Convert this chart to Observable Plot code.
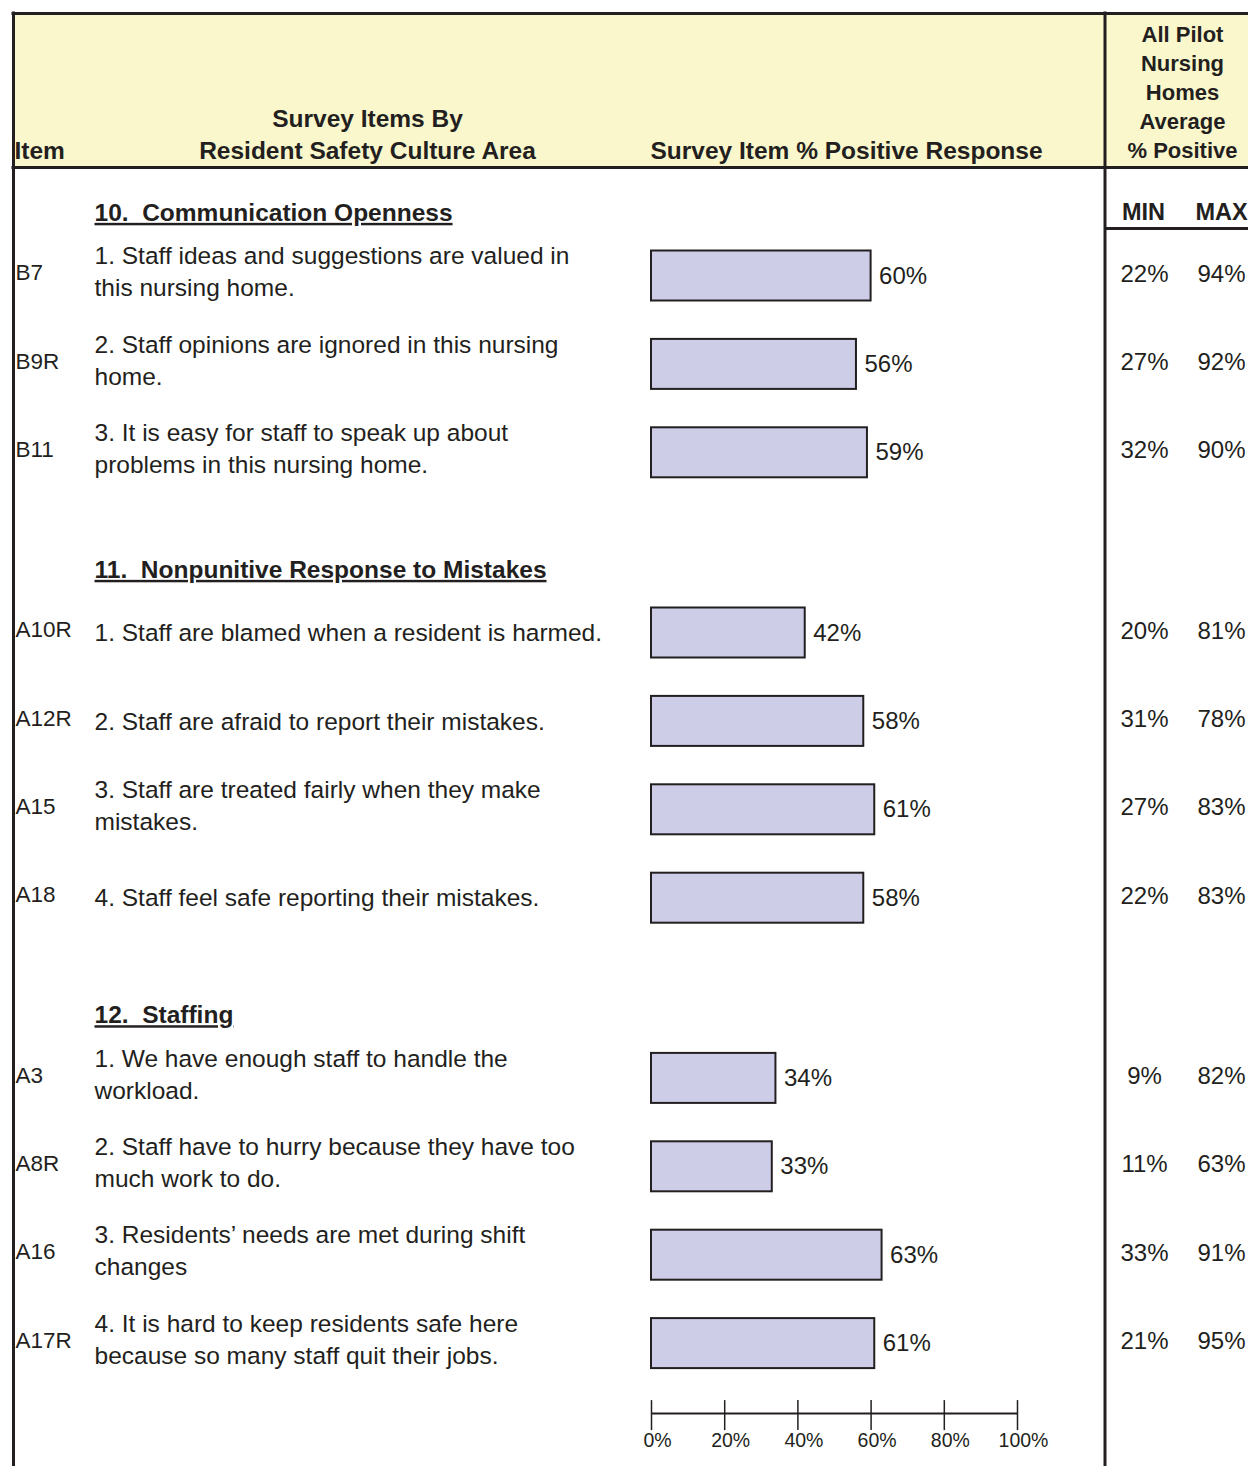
<!DOCTYPE html>
<html>
<head>
<meta charset="utf-8">
<script src="https://cdn.jsdelivr.net/npm/d3@7"></script>
<script src="https://cdn.jsdelivr.net/npm/@observablehq/plot@0.6"></script>
<style>
  html, body { margin: 0; padding: 0; background: #ffffff; }
  #chart svg { display: block; }
</style>
</head>
<body>
<div id="chart"></div>
<script>
// ---------------- DATA ----------------
const sectionTitles = [
  "10.\u00a0 Communication Openness",
  "11.\u00a0 Nonpunitive Response to Mistakes",
  "12.\u00a0 Staffing"
];
const itemCodes = ["B7", "B9R", "B11", "A10R", "A12R", "A15", "A18", "A3", "A8R", "A16", "A17R"];
const itemSection = [0, 0, 0, 1, 1, 1, 1, 2, 2, 2, 2];
const itemTexts = [
  "1. Staff ideas and suggestions are valued in\nthis nursing home.",
  "2. Staff opinions are ignored in this nursing\nhome.",
  "3. It is easy for staff to speak up about\nproblems in this nursing home.",
  "1. Staff are blamed when a resident is harmed.",
  "2. Staff are afraid to report their mistakes.",
  "3. Staff are treated fairly when they make\nmistakes.",
  "4. Staff feel safe reporting their mistakes.",
  "1. We have enough staff to handle the\nworkload.",
  "2. Staff have to hurry because they have too\nmuch work to do.",
  "3. Residents\u2019 needs are met during shift\nchanges",
  "4. It is hard to keep residents safe here\nbecause so many staff quit their jobs."
];
const pctPositive = [60, 56, 59, 42, 58, 61, 58, 34, 33, 63, 61];
const minPct = [22, 27, 32, 20, 31, 27, 22, 9, 11, 33, 21];
const maxPct = [94, 92, 90, 81, 78, 83, 83, 82, 63, 91, 95];
const axisTicks = [0, 20, 40, 60, 80, 100];

const headerLeft = ["Survey Items By", "Resident Safety Culture Area"];
const headerRight = ["All Pilot", "Nursing", "Homes", "Average", "% Positive"];

// ---------------- LAYOUT ----------------
const W = 1248, H = 1466;
const INK = "#231f20";
const FONT = "'Liberation Sans', Arial, Helvetica, sans-serif";
const X = Plot.scale({x: {type: "linear", domain: [0, 100], range: [651, 1017]}});
const px = (p) => X.invert(p);   // page pixel -> x units (for table chrome)

const firstRow = 275.5, rowStep = 88.4, sectionGap = 91.8;
const rows = itemCodes.map((code, i) => ({
  code,
  text: itemTexts[i],
  value: pctPositive[i],
  min: minPct[i],
  max: maxPct[i],
  c: firstRow + i * rowStep + itemSection[i] * sectionGap
}));
const sections = sectionTitles.map((t, s) => {
  const first = rows[itemSection.indexOf(s)];
  return {t, y: first.c - 63};
});
const axisY = rows[rows.length - 1].c + 70;

const txt = {fill: INK, fontFamily: FONT};

const chart = Plot.plot({
  width: W,
  height: H,
  margin: 0,
  x: {type: "linear", domain: [0, 100], range: [651, 1017], axis: null},
  y: {type: "identity", axis: null},
  style: {background: "#ffffff", fontFamily: FONT, color: INK},
  marks: [
    // header fill
    Plot.rect([0], {x1: px(13), x2: px(W), y1: 13, y2: 167, fill: "#fbf7cc"}),
    // frame lines
    Plot.ruleY([13], {y: d => d, x1: px(11.5), x2: px(W), stroke: INK, strokeWidth: 3}),
    Plot.ruleY([167], {y: d => d, x1: px(11.5), x2: px(W), stroke: INK, strokeWidth: 3}),
    Plot.ruleY([228], {y: d => d, x1: px(1104), x2: px(W), stroke: INK, strokeWidth: 3}),
    Plot.ruleX([px(13)], {x: d => d, y1: 11.5, y2: H, stroke: INK, strokeWidth: 3}),
    Plot.ruleX([px(1104.5)], {x: d => d, y1: 11.5, y2: H, stroke: INK, strokeWidth: 3}),

    // header texts
    Plot.text(["Item"], {...txt, x: px(14), y: 151, text: d => d, textAnchor: "start", fontWeight: "bold", fontSize: 24.5}),
    Plot.text(headerLeft, {...txt, x: px(367), y: (d, i) => 119 + i * 32, text: d => d, fontWeight: "bold", fontSize: 24.5}),
    Plot.text(["Survey Item % Positive Response"], {...txt, x: px(846), y: 151, text: d => d, fontWeight: "bold", fontSize: 24.5}),
    Plot.text(headerRight, {...txt, x: px(1182), y: (d, i) => 34 + i * 29.2, text: d => d, fontWeight: "bold", fontSize: 22}),
    Plot.text(["MIN", "MAX"], {...txt, x: (d, i) => px(i ? 1221 : 1143), y: 212, text: d => d, fontWeight: "bold", fontSize: 23.5}),

    // section headers (underlined after render)
    Plot.text(sections, {...txt, x: px(94), y: "y", text: "t", textAnchor: "start", fontWeight: "bold", fontSize: 24.5}),

    // item codes and texts
    Plot.text(rows, {...txt, x: px(15), y: d => d.c - 3, text: "code", textAnchor: "start", fontSize: 22.5}),
    Plot.text(rows, {...txt, x: px(94), y: d => d.c - (d.text.includes("\n") ? 6 : 2), text: "text", textAnchor: "start", fontSize: 24.5, lineHeight: 1.306}),

    // bars
    Plot.rectX(rows, {x1: 0, x2: "value", y1: d => d.c - 25, y2: d => d.c + 25, fill: "#cecde8", stroke: INK, strokeWidth: 2}),
    Plot.text(rows, {...txt, x: "value", y: "c", dx: 8, text: d => `${d.value}%`, textAnchor: "start", fontSize: 24}),

    // min / max columns
    Plot.text(rows, {...txt, x: px(1144), y: d => d.c - 2, text: d => `${d.min}%`, fontSize: 24}),
    Plot.text(rows, {...txt, x: px(1221), y: d => d.c - 2, text: d => `${d.max}%`, fontSize: 24}),

    // bottom axis
    Plot.ruleY([axisY], {y: d => d, x1: 0, x2: 100, stroke: INK, strokeWidth: 2}),
    Plot.ruleX(axisTicks, {x: d => d, y1: axisY - 13, y2: axisY + 17, stroke: INK, strokeWidth: 1.5}),
    Plot.text(axisTicks, {...txt, x: d => d, y: axisY + 27, dx: 6, text: d => `${d}%`, fontSize: 19.5})
  ]
});

// underline the section headers
chart.querySelectorAll("text").forEach(t => {
  if (sectionTitles.includes(t.textContent)) {
    t.setAttribute("text-decoration", "underline");
    t.style.textDecoration = "underline";
  }
});

document.getElementById("chart").appendChild(chart);
</script>
</body>
</html>
